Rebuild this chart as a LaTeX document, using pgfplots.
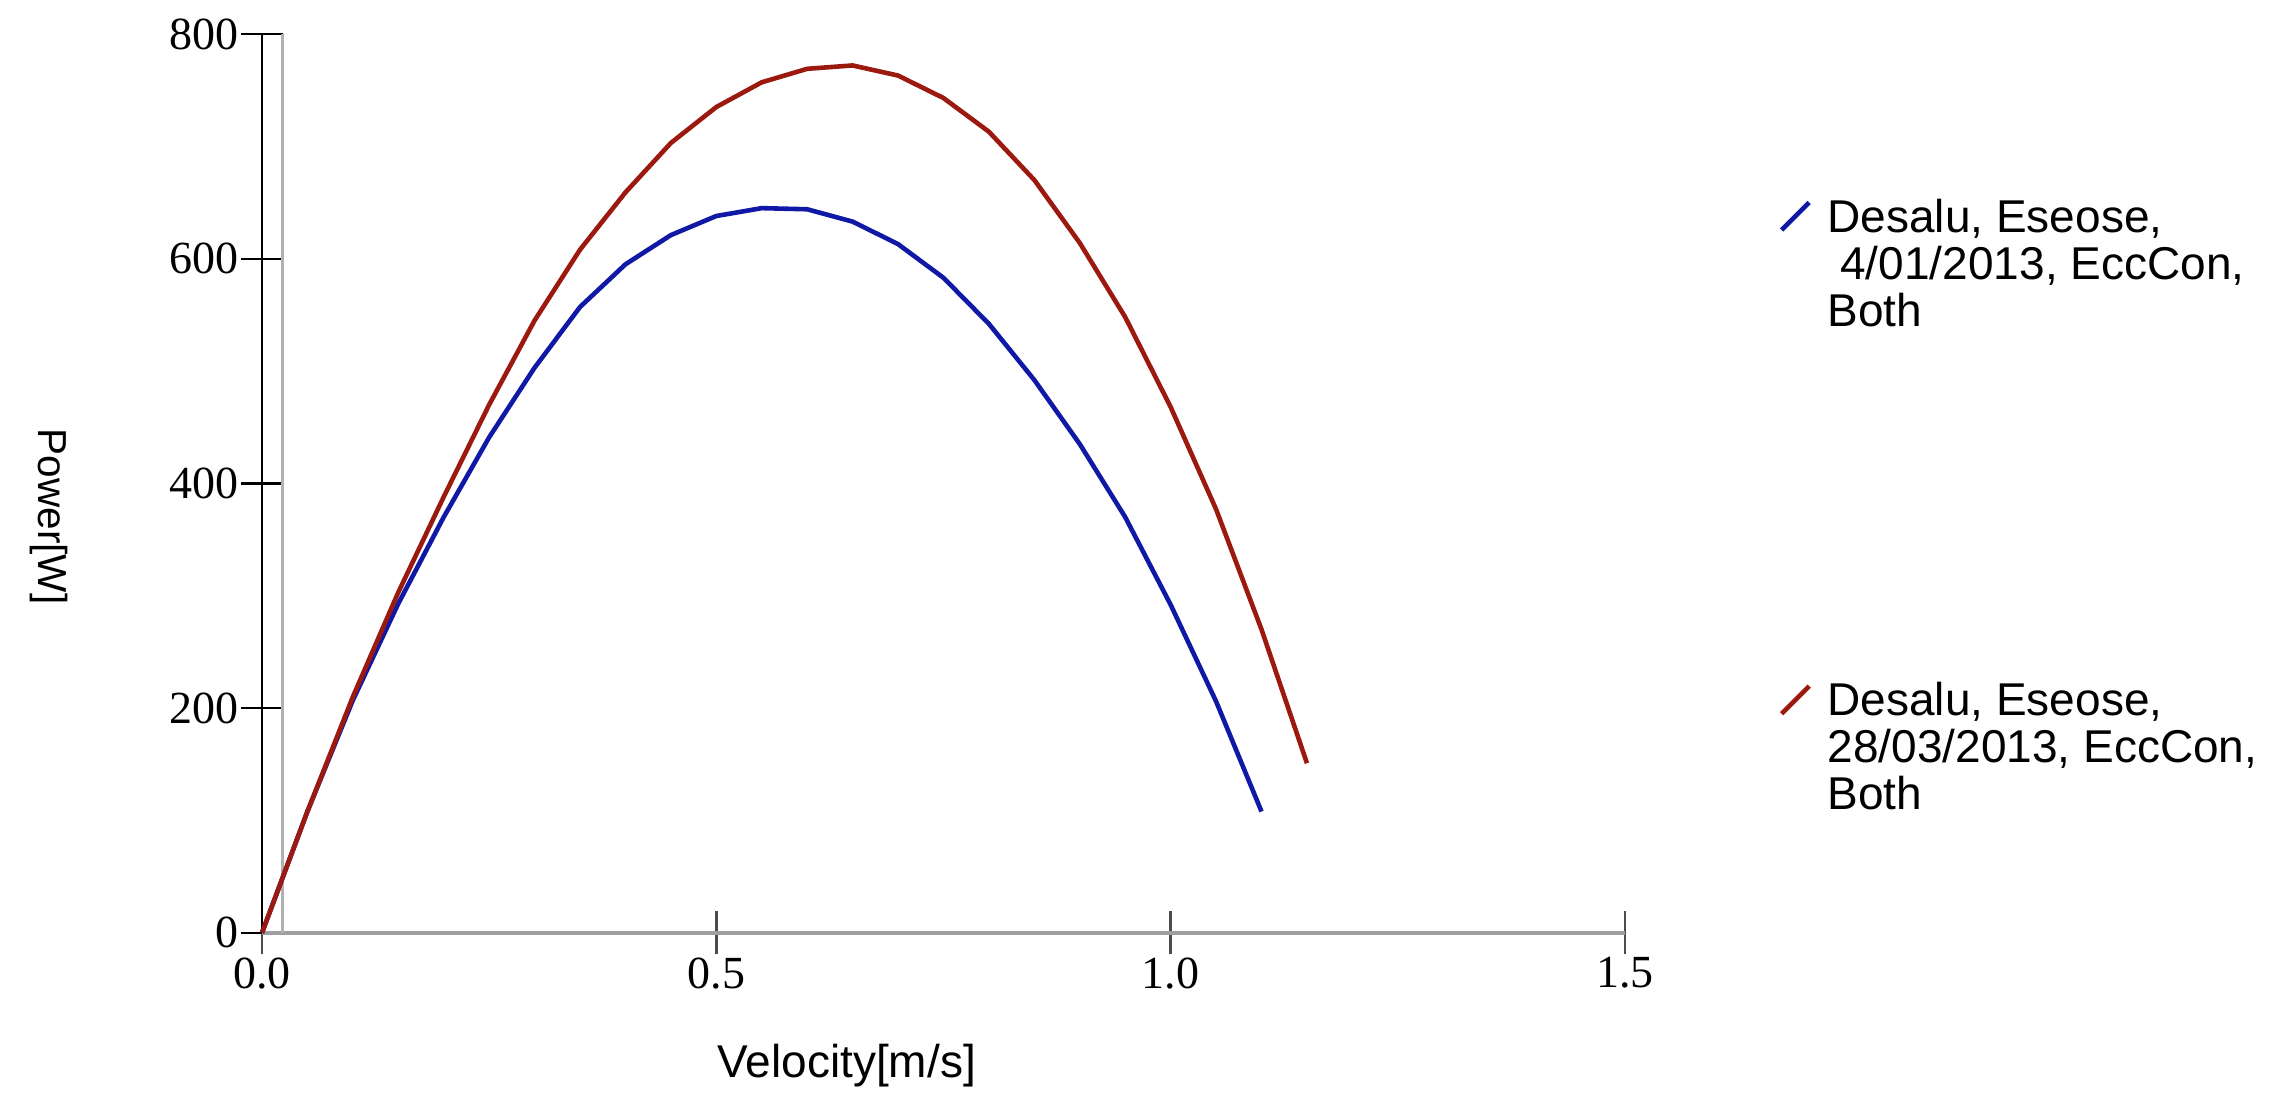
\documentclass[border=0pt]{standalone}
\usepackage{fontspec}
\setmainfont{Liberation Serif}
\setsansfont{Liberation Sans}
\usepackage{pgfplots}
\pgfplotsset{compat=1.18}
\definecolor{cblue}{RGB}{15,25,165}
\definecolor{cred}{RGB}{155,25,15}
\begin{document}
\begin{tikzpicture}
\begin{axis}[
  scale only axis, width=296.3pt, height=195.4pt,
  xmin=0, xmax=1.5, ymin=0, ymax=800,
  axis x line*=bottom, axis y line*=left,
  x axis line style={draw=gray!75, line width=1pt, -},
  y axis line style={draw=black, line width=0.5pt, -},
  xtick={0,0.5,1,1.5}, ytick={0,200,400,600,800},
  tick align=center, major tick length=9.3pt,
  xtick style={draw=gray!60!black, line width=0.6pt},
  ytick style={draw=black, line width=0.5pt},
  /pgf/number format/assume math mode=true,
  xticklabel style={yshift=2.8pt, /pgf/number format/.cd, fixed, fixed zerofill, precision=1},
  yticklabel style={xshift=3pt},
  tick label style={font=\fontsize{10}{12}\selectfont},
  xlabel={Velocity[m/s]}, ylabel={Power[W]},
  xlabel style={font=\sffamily\fontsize{10}{12}\selectfont, at={(axis description cs:0.429,-0.148)}, anchor=center},
  ylabel style={font=\sffamily\fontsize{8.8}{10}\selectfont, at={(axis description cs:-0.156,0.463)}, anchor=center, rotate=180},
  legend style={at={(axis description cs:1.1024,0.838)}, anchor=north west, draw=none, fill=none,
    font=\sffamily\fontsize{10}{10.2}\selectfont, row sep=72pt, nodes={align=left}},
  legend cell align=left,
  legend image code/.code={\draw[#1] (0pt,7.8pt) -- (6pt,13.8pt); \path (7.5pt,7.8pt);},
  clip=false,
]
\draw[gray!60, line width=0.6pt] (axis cs:0.023,0) -- (axis cs:0.023,800);
\addplot[cblue, line width=1pt, no marks] coordinates {
(0,0) (0.05,108) (0.1,207) (0.15,293) (0.2,370) (0.25,441) (0.3,503) (0.35,557)
(0.4,595) (0.45,621) (0.5,638) (0.55,645) (0.6,644) (0.65,633) (0.7,613) (0.75,583)
(0.8,542) (0.85,492) (0.9,435) (0.95,370) (1.0,292) (1.05,206) (1.1,108)};
\addlegendentry{Desalu, Eseose,\\\ 4/01/2013, EccCon,\\Both}
\addplot[cred, line width=1pt, no marks] coordinates {
(0,0) (0.05,108) (0.1,210) (0.15,303) (0.2,388) (0.25,470) (0.3,545) (0.35,608)
(0.4,659) (0.45,703) (0.5,735) (0.55,757) (0.6,769) (0.65,772) (0.7,763) (0.75,743)
(0.8,713) (0.85,670) (0.9,614) (0.95,548) (1.0,468) (1.05,377) (1.1,270) (1.15,151)};
\addlegendentry{Desalu, Eseose,\\28/03/2013, EccCon,\\Both}
\coordinate (bbl) at (axis description cs:-0.1922,-0.178);
\coordinate (btr) at (axis description cs:1.4813,1.0378);
\end{axis}
\pgfresetboundingbox
\path[use as bounding box] (bbl) rectangle (btr);
\end{tikzpicture}
\end{document}
